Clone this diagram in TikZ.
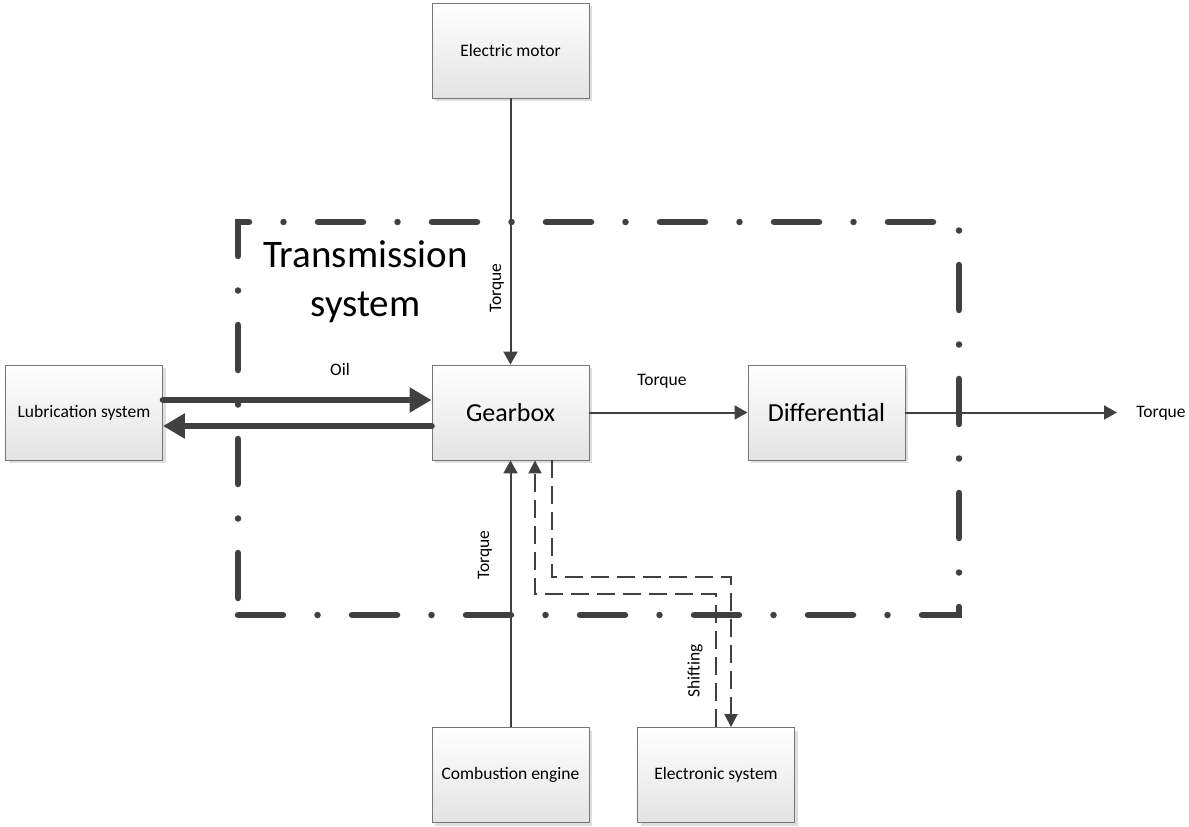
\documentclass[tikz,border=0pt]{standalone}
\usepackage{fontspec}
\setmainfont{Carlito}
\usetikzlibrary{arrows.meta,shadows}
\definecolor{ink}{RGB}{64,64,64}
\definecolor{boxedge}{RGB}{118,118,118}
\begin{document}
\begin{tikzpicture}[x=1pt,y=-1pt,
  block/.style={draw=boxedge, line width=0.9pt, top color=white, bottom color=black!11,
    minimum width=157pt, minimum height=95pt, inner sep=0pt,
    font=\fontsize{17.5}{21}\selectfont,
    drop shadow={shadow xshift=3pt, shadow yshift=-3pt, fill=black!13, opacity=1}},
  bigblock/.style={block, font=\fontsize{26}{31}\selectfont},
  flow/.style={draw=ink, line width=2pt, -{Triangle[length=13pt,width=14pt]}},
  oil/.style={draw=ink, line width=6.5pt, line cap=round, -{Triangle[length=22pt,width=24pt]}},
  signal/.style={draw=ink, line width=2pt, dash pattern=on 18pt off 8pt, -{Triangle[length=13pt,width=13pt]}},
  lbl/.style={font=\fontsize{17.5}{21}\selectfont, inner sep=0pt},
  frame/.style={draw=ink, line width=6.5pt, line cap=round,
    dash pattern=on 45pt off 34.5pt on 0pt off 34.5pt}
]
\useasboundingbox (0,0) rectangle (1189,827);

% system boundary (dash-dot frame)
\draw[frame] (238,615) -- (959,615) -- (959,222) -- (238,222) -- cycle;
\node[font=\fontsize{39}{49}\selectfont, align=center, inner sep=0pt] (title) at (365.5,282) {Transmission\\system};

% blocks
\node[block]    (motor)  at (510.5,50.5)  {Electric motor};
\node[block]    (lube)   at (84,412.5)    {Lubrication system};
\node[bigblock] (gear)   at (510.5,412.5) {Gearbox};
\node[bigblock] (diff)   at (826.5,412.5) {Differential};
\node[block]    (engine) at (510.5,775)   {Combustion engine};
\node[block]    (elec)   at (716,775)     {Electronic system};

% torque paths
\draw[flow] (motor.south) -- (gear.north);
\draw[flow] (engine.north) -- (gear.south);
\draw[flow] (gear.east) -- (diff.west);
\coordinate (out) at (1117,412.5);
\draw[flow] (diff.east) -- (out);

\node[lbl, rotate=90] (tqtop) at (497,288) {Torque};
\node[lbl, rotate=90] (tqbot) at (485,555) {Torque};
\node[lbl] (tqmid) at (662,381) {Torque};
\node[lbl] (tqout) at (1161,413) {Torque};

% oil circuit
\draw[oil] (lube.east |- 0,400) -- (gear.west |- 0,400);
\draw[oil] (gear.west |- 0,426) -- (lube.east |- 0,426);
\node[lbl] (oiltxt) at (340,369) {Oil};

% shifting signals
\draw[signal] (elec.north -| 716,0) -- (716,594) -- (535,594) -- (gear.south -| 535,0);
\draw[signal] (gear.south -| 552,0) -- (552,577) -- (731,577) -- (elec.north -| 731,0);
\node[lbl, rotate=90] (shift) at (695,671) {Shifting};
\end{tikzpicture}
\end{document}
